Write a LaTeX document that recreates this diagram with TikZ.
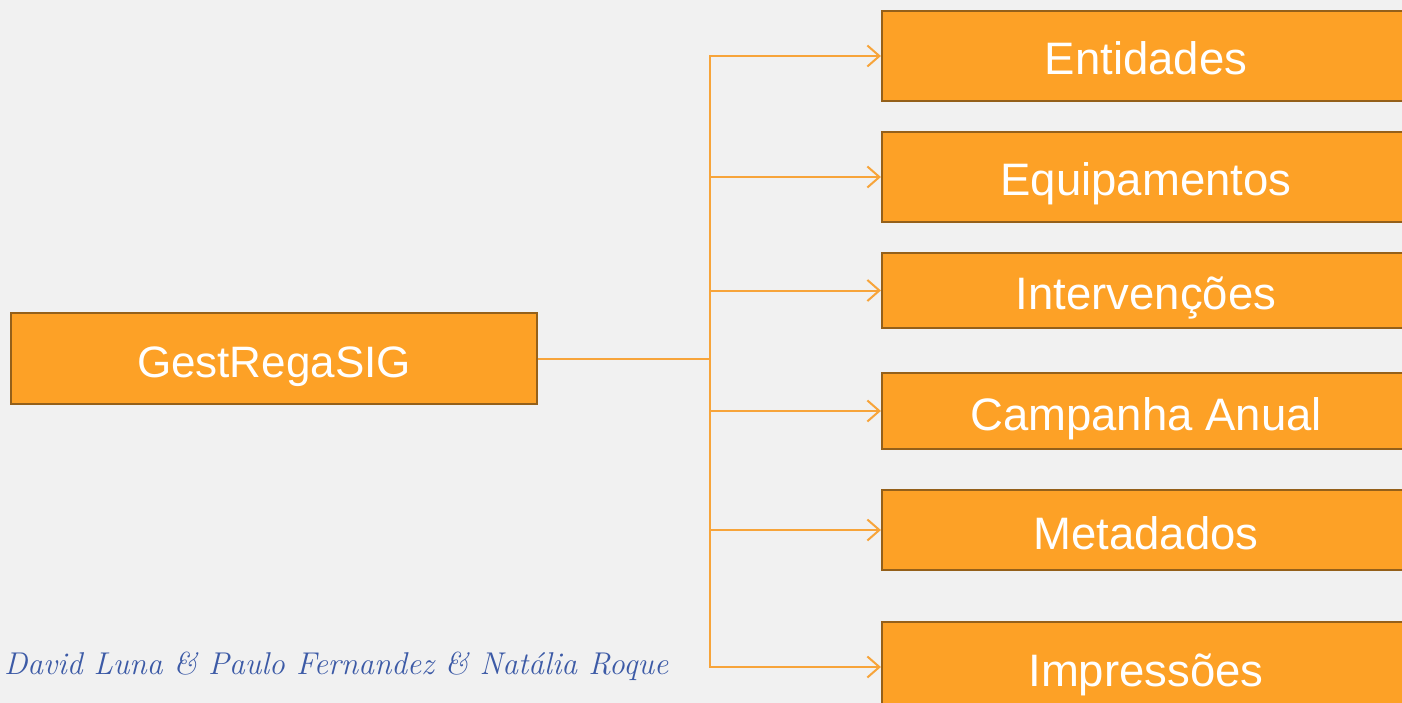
\documentclass[tikz,border=0pt]{standalone}
\usepackage{fontspec}
\setmainfont{Liberation Sans}
\newfontfamily\sigfont{Latin Modern Roman}
\usetikzlibrary{arrows.meta}
\definecolor{bgc}{HTML}{F1F1F1}
\definecolor{boxfill}{HTML}{FDA126}
\definecolor{boxline}{HTML}{94601A}
\definecolor{connc}{HTML}{F7A43A}
\definecolor{sigc}{HTML}{3C5AA6}
\tikzset{
  obox/.style={draw=boxline, line width=2.2pt, fill=boxfill, text=white, inner sep=0pt,
    text height=38pt, text depth=0pt, font=\fontsize{45.5}{50}\selectfont},
  conn/.style={draw=connc, line width=2pt, -{Straight Barb[length=12pt,width=21pt,line width=2pt]}},
  plain/.style={draw=connc, line width=2pt}
}
\begin{document}
\begin{tikzpicture}[x=1pt,y=-1pt]
\useasboundingbox (0,0) rectangle (1402,703);
\clip (0,0) rectangle (1402,703);
\fill[bgc] (0,0) rectangle (1402,703);
\node[obox, minimum width=526pt, minimum height=91pt, font=\fontsize{44}{50}\selectfont] (g) at (274,358.5) {GestRegaSIG};
\node[obox, minimum width=528pt, minimum height=90pt] (e1) at (1146,56) {Entidades};
\node[obox, minimum width=528pt, minimum height=90pt] (e2) at (1146,177) {Equipamentos};
\node[obox, minimum width=528pt, minimum height=75pt] (e3) at (1146,290.5) {Intervenções};
\node[obox, minimum width=528pt, minimum height=76pt] (e4) at (1146,411) {Campanha Anual};
\node[obox, minimum width=528pt, minimum height=80pt] (e5) at (1146,530) {Metadados};
\node[obox, minimum width=528pt, minimum height=90pt] (e6) at (1146,667) {Impressões};
\coordinate (t) at (710,358.5);
\draw[plain] (g.east) -- (t);
\foreach \n in {e1,e2,e3,e4,e5,e6}{
  \draw[conn] (t) |- (\n.west);
}
\node[anchor=base west, text=sigc, inner sep=0pt, font=\sigfont\itshape\fontsize{31.5}{36}\selectfont] (sig) at (4,674) {David Luna \& Paulo Fernandez \& Natália Roque};
\end{tikzpicture}
\end{document}
